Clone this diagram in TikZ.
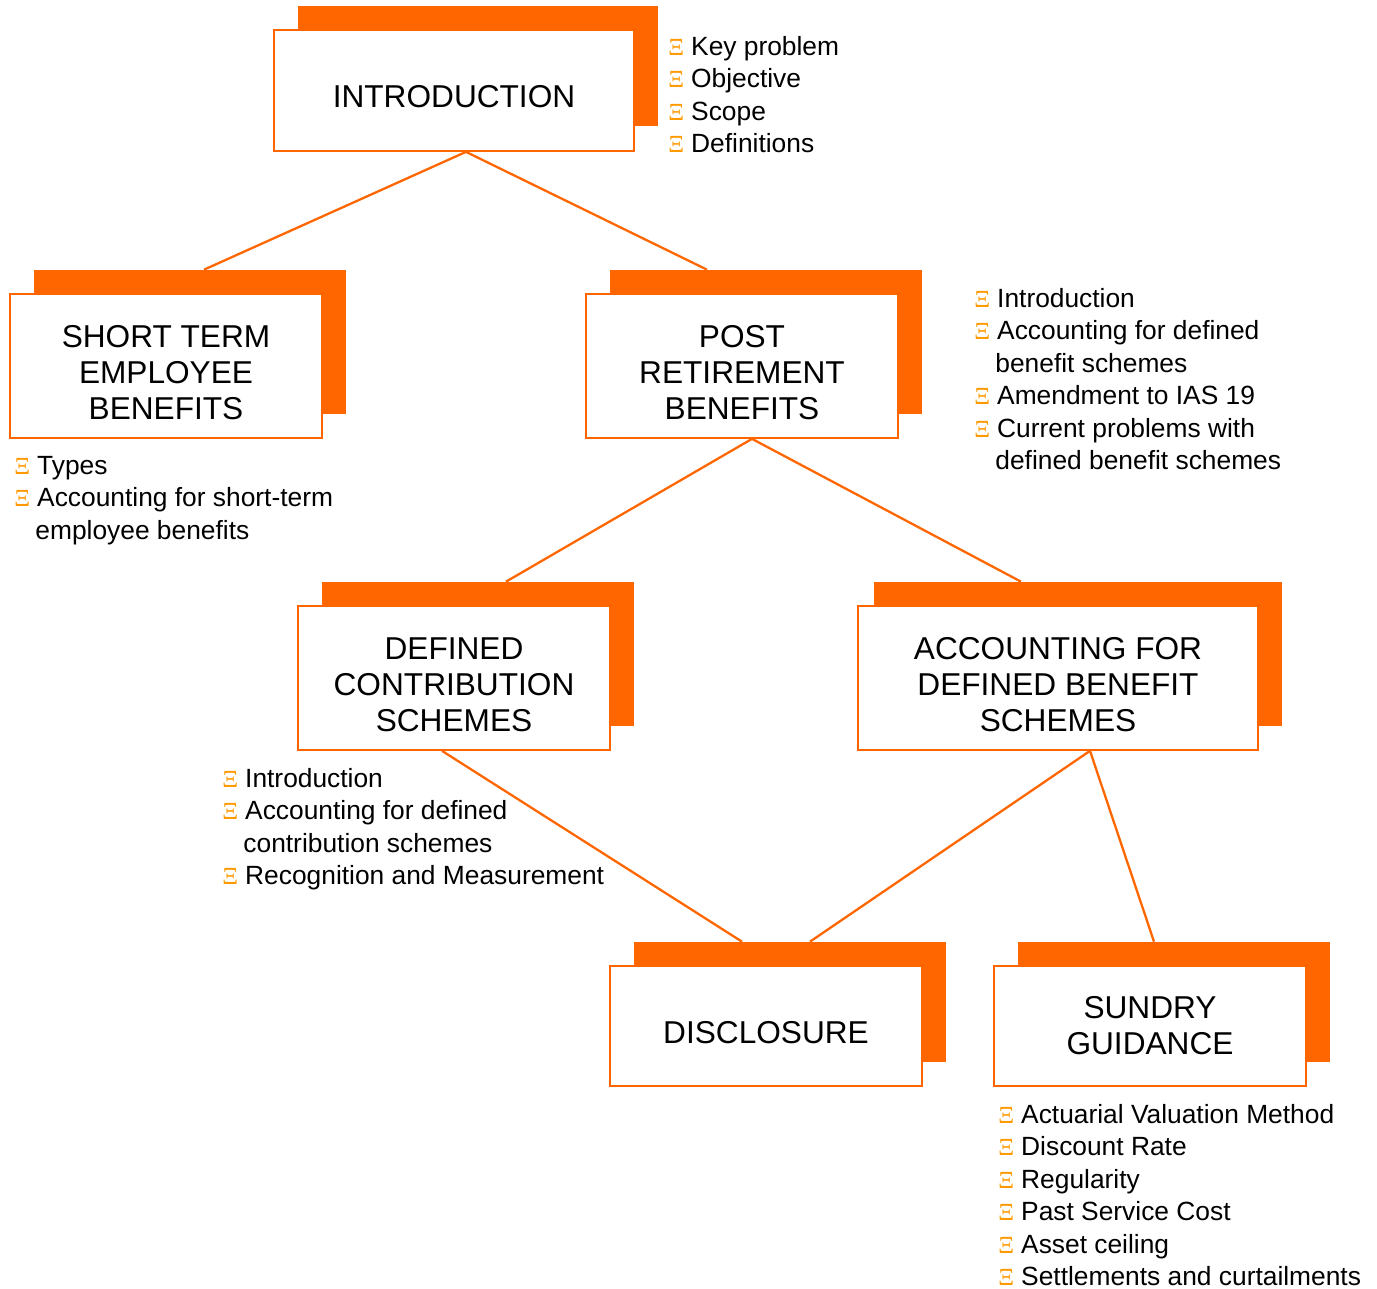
\documentclass[tikz,border=0pt]{standalone}
\usepackage{fontspec}
\setmainfont{Liberation Sans}
\newfontfamily\bulfont{Liberation Serif}
\usepackage{xcolor}
\usetikzlibrary{calc}
\definecolor{ShadowOrange}{HTML}{FF6600}
\definecolor{BorderOrange}{HTML}{FF6600}
\definecolor{BulletOrange}{HTML}{FF9900}
\newcommand{\bul}{\makebox[13pt][l]{\textcolor{BulletOrange}{\bulfont\fontsize{14}{14}\selectfont Ξ}}}
\newcommand{\cont}{\hspace*{12pt}}
\newcommand{\lift}{\rule{0pt}{20pt}}

\begin{document}
\begin{tikzpicture}[x=0.02cm,y=-0.02cm,
 shadowbox/.style={fill=ShadowOrange,inner sep=0pt},
 whitebox/.style={draw=BorderOrange,line width=1pt,fill=white,align=center,
  inner sep=0pt,font=\fontsize{18}{20.5}\selectfont},
 itemlist/.style={anchor=north west,inner sep=0pt,align=left,
  font=\fontsize{15}{18.5}\selectfont},
 link/.style={draw=ShadowOrange,line width=1.3pt}]
\useasboundingbox (0,0) rectangle (1377,1289);
% shadows
\node[shadowbox,minimum width=7.2cm,minimum height=2.4cm] (introS) at (478,66) {};
\node[shadowbox,minimum width=6.24cm,minimum height=2.88cm] (stbS) at (190,342) {};
\node[shadowbox,minimum width=6.24cm,minimum height=2.88cm] (postS) at (766,342) {};
\node[shadowbox,minimum width=6.24cm,minimum height=2.88cm] (dcS) at (478,654) {};
\node[shadowbox,minimum width=8.16cm,minimum height=2.88cm] (adS) at (1078,654) {};
\node[shadowbox,minimum width=6.24cm,minimum height=2.4cm] (discS) at (790,1002) {};
\node[shadowbox,minimum width=6.24cm,minimum height=2.4cm] (sunS) at (1174,1002) {};
% boxes
\node[whitebox,minimum width=7.2cm,minimum height=2.42cm] (intro) at (454,90.5) {\lift INTRODUCTION};
\node[whitebox,minimum width=6.24cm,minimum height=2.88cm] (stb) at (166,366) {\lift SHORT TERM\\EMPLOYEE\\BENEFITS};
\node[whitebox,minimum width=6.24cm,minimum height=2.88cm] (post) at (742,366) {\lift POST\\RETIREMENT\\BENEFITS};
\node[whitebox,minimum width=6.24cm,minimum height=2.88cm] (dc) at (454,678) {\lift DEFINED\\CONTRIBUTION\\SCHEMES};
\node[whitebox,minimum width=8cm,minimum height=2.88cm] (ad) at (1058,678) {\lift ACCOUNTING FOR\\DEFINED BENEFIT\\SCHEMES};
\node[whitebox,minimum width=6.24cm,minimum height=2.4cm] (disc) at (766,1026) {\lift DISCLOSURE};
\node[whitebox,minimum width=6.24cm,minimum height=2.4cm] (sun) at (1150,1026) {SUNDRY\\GUIDANCE};
% connectors
\draw[link] ($(intro.south)+(12,0)$) -- ($(stbS.north)+(14,0)$);
\draw[link] ($(intro.south)+(12,0)$) -- ($(postS.north)+(-59,0)$);
\draw[link] ($(post.south)+(10,0)$) -- ($(dcS.north)+(28,0)$);
\draw[link] ($(post.south)+(10,0)$) -- ($(adS.north)+(-57,0)$);
\draw[link] ($(dc.south)+(-12,0)$) -- ($(discS.north)+(-48,0)$);
\draw[link] ($(ad.south)+(32,0)$) -- ($(discS.north)+(20,0)$);
\draw[link] ($(ad.south)+(32,0)$) -- ($(sunS.north)+(-20,0)$);
% item lists
\node[itemlist] (introL) at (668,36) {\bul Key problem\\\bul Objective\\\bul Scope\\\bul Definitions};
\node[itemlist] (postL) at (974,288) {\bul Introduction\\\bul Accounting for defined\\\cont benefit schemes\\\bul Amendment to IAS 19\\\bul Current problems with\\\cont defined benefit schemes};
\node[itemlist] (stbL) at (14,456) {\bul Types\\\bul Accounting for short-term\\\cont employee benefits};
\node[itemlist] (dcL) at (222,768) {\bul Introduction\\\bul Accounting for defined\\\cont contribution schemes\\\bul Recognition and Measurement};
\node[itemlist] (sunL) at (998,1104) {\bul Actuarial Valuation Method\\\bul Discount Rate\\\bul Regularity\\\bul Past Service Cost\\\bul Asset ceiling\\\bul Settlements and curtailments};
\end{tikzpicture}
\end{document}
